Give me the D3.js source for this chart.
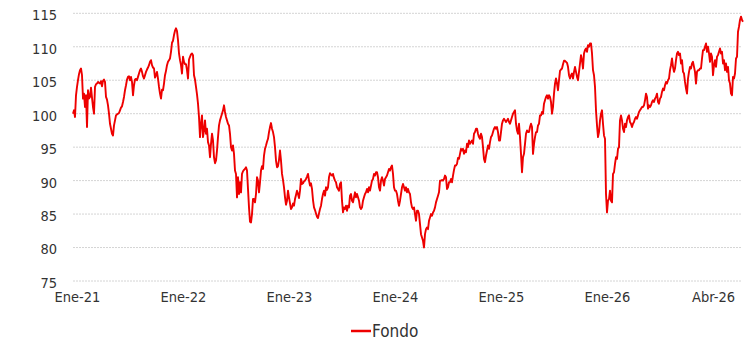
<!DOCTYPE html>
<html>
<head>
<meta charset="utf-8">
<script src="https://cdn.jsdelivr.net/npm/d3@7"></script>
<style>
  html, body { margin: 0; padding: 0; background: #ffffff; }
  svg { display: block; font-family: "DejaVu Sans Condensed", "DejaVu Sans", sans-serif; }
</style>
</head>
<body>
<svg id="chart" width="749" height="343"></svg>
<script>
// Fund value index (base 100), one value per observation
const fondo = [
  100.0,100.5,99.5,102.75,104,105,105.9,106.5,106.75,105.75,102.25,103,101,102.75,98,103.5,102.25,102.5,103.9,102.4,
  101,100,104,104.4,104.5,104.75,104.6,104.5,104.85,104.1,104.9,105.1,104.75,102.5,102.1,101.25,100,98.5,97.75,97,
  96.75,98.25,99,99.75,99.9,100,100.1,100.5,100.9,101.1,101.75,102.5,103.5,104.25,105.1,105.5,105.6,
  105,105.5,104.75,102.75,104.25,105.1,105.2,105,105.5,106,106.5,106.75,106.25,105.6,105.25,105.75,106.25,106.6,106.9,107.25,
  107.75,108,107.25,106.9,106.75,105.4,105.75,106.25,105.25,104,103,102.25,103.6,103.5,104.5,105.75,106.4,107.25,107.75,108,
  108.25,109.25,110.6,110.9,111.75,112.4,112.75,112.35,111,109,108,107.25,106,108.5,107.75,107.4,107.4,106.5,105.25,108.1,
  108.5,108.85,109,108.75,105.75,105.1,104,102.9,101.5,99.5,96.5,98.5,99.75,96.5,97.5,99,97,97.75,95.75,95.25,
  93.5,95.5,97,96,93.5,92.6,93,94.5,96.5,98.25,99,99.5,100,100.5,101.25,100.25,99.5,99,98.5,98.25,
  97,95,94.5,95.25,94,91.5,91,87.5,90.5,88,89.75,88.25,91,91.4,91.6,91.75,92,91.5,88.75,86,
  83.85,83.75,85,87.25,87.25,86.75,88,90.5,90,88.25,89.75,91.5,92.15,91.75,93.75,94.75,95.25,95.8,96.25,97.25,
  98,98.6,97.75,97.25,96.5,95,93,92,92.15,93.1,94.5,93,91,90.1,89,87.5,86.4,87,88.5,87.5,
  86.6,85.75,86,86.6,86.25,87.25,87.85,88.5,88,87.4,88.5,90.25,89.5,89.6,89.9,90,90.25,90.6,91,90,
  89.25,89.6,88.75,87.1,86,85.6,85.1,84.6,84.4,85.1,85.75,86.25,87.25,88,88.5,87.75,89,88.6,89,90.5,
  91.1,90.9,90.75,91,90.4,90,89.75,89,88.75,88.5,
  89.5,89.75,87,85.25,86,85.75,86.25,85.5,86.25,86,87.75,88,87,86.75,87.5,88.25,87.5,88,87.5,87,
  86,85.75,86,87,87.5,88,88.25,88.75,88.25,89,88.5,89.25,90,90.25,91,90.75,91.25,91.25,90.5,89,
  88.5,90,90.5,90,89.25,90.25,90.5,90.75,91.25,91.75,91.5,92,92.25,91,89,88.5,88.5,88,87,86.25,
  87,88,89,89.5,89,88.5,89,88.25,88.75,88.25,88,86.75,86,85.75,86,85,84,85.5,85.5,85,
  83.5,82,81.5,81,80,82,82.75,83,82.75,84,84.5,85,84.75,85.25,85.5,86,86.75,87.25,87.75,88.25,
  90,90,90.1,90,90.25,90.75,90.5,88.75,89,89.75,
  89.75,90.25,89.75,90.75,91.6,92.25,92.25,92.5,93.4,93.25,94,94.75,94.5,94.75,94,94.5,94.25,95.5,95,96,
  95.5,95.75,96,95.5,97,97.25,97.75,97.75,97,96.5,96.25,97,96.5,95,93.25,92.75,93.75,94.5,95.25,94.75,
  95.75,96.5,96.75,97.25,97.75,98,97.75,98,97.25,96,96,97.25,98.5,99,99.25,99,98.75,99,99.25,98.75,
  98.5,99,99.5,100,100.25,100.5,98.5,97.5,97,98.5,96.5,94,91.25,93.5,94,95.5,97,97.5,97.25,97.25,
  98,98.5,98,94,95.5,96.5,97.25,97.25,98.25,98.5,99.75,99.75,100.25,100,101.5,102,102.5,102.75,102.25,102.75,
  102.5,101.75,100,101,103,104.5,105.25,104.5,103.5,105,
  106.4,106.6,106.75,107.4,107.9,107.9,107.75,107.6,107,105.75,105.25,105.75,106,105.25,106.25,107,106.25,105.5,105,106.25,
  107.5,108.75,108,106.75,109,109.5,109.75,109.25,110.25,110,110.5,110.5,109,106.5,105.75,104,100.5,98.25,96.5,97.25,
  99,100,100.5,98.5,96.75,96.25,88,85.25,87,87.25,88.5,87,86.75,91,91.25,92.5,93.5,93.25,94.75,95,
  99,99.75,99,97.75,97.25,98.5,98,99,99.5,99.75,98.75,98.5,98,98.5,98.75,99.25,99.5,99.25,99.75,100.25,
  100.5,100.75,101,101,101.25,102,103,102.5,100.75,101.25,
  101,101.25,101.75,102,101.75,102.25,102.5,103,101.75,101.5,102.25,102.5,103.25,103.75,103.5,104.25,104.75,104.5,105,105.25,
  106.5,107.25,108.25,107,106.25,106.75,108,109,109.25,108.75,109,107.5,108,106.25,106,104.75,103.75,103,105.25,106.25,
  107,106.75,107.5,107.75,107,106.25,104.5,106.25,106.5,106.5,106.75,106.75,108.25,109.5,109.5,110,110.5,109.25,110,109,
  107.75,109,108.5,105.75,107.25,108,107,108.5,108.75,109.25,109.75,109,109.25,107.5,108,106.5,107.5,106.25,107,105,
  104.5,103,102.75,105.5,105.25,106,108.25,108.5,112.25,113,114,114.5,114,113.75
];

// Y axis ticks (index level)
const yTicks = [75, 80, 85, 90, 95, 100, 105, 110, 115];

// X axis labels and the observation each one sits under
const xTickLabels = ["Ene-21", "Ene-22", "Ene-23", "Ene-24", "Ene-25", "Ene-26", "Abr-26"];
const xTickIndex = [4, 110, 216, 322, 428, 534, 640];

const seriesName = "Fondo";
const seriesColor = "#ee0000";

const svg = d3.select("#chart");
const plot = { left: 73, right: 743, top: 13.3, bottom: 281 };

const x = d3.scaleLinear()
  .domain([0, fondo.length - 1])
  .range([plot.left, plot.right]);

const y = d3.scaleLinear()
  .domain([75, 115])
  .range([plot.bottom, plot.top]);

// Horizontal dotted gridlines
svg.append("g")
  .selectAll("line")
  .data(yTicks)
  .join("line")
  .attr("x1", plot.left)
  .attr("x2", 742)
  .attr("y1", d => y(d))
  .attr("y2", d => y(d))
  .attr("stroke", "#d4d4d4")
  .attr("stroke-width", 1)
  .attr("stroke-dasharray", "2,1");

// Y axis labels
const yAxis = d3.axisLeft(y).tickValues(yTicks).tickSize(0).tickPadding(0);
const gy = svg.append("g")
  .attr("transform", "translate(57,1.8)")
  .call(yAxis);
gy.select(".domain").remove();
gy.selectAll("text")
  .attr("fill", "#333")
  .style("font-size", "14.5px")
  .style("font-family", "'DejaVu Sans Condensed', 'DejaVu Sans', sans-serif");

// X axis labels
const xAxis = d3.axisBottom(x)
  .tickValues(xTickIndex)
  .tickFormat((d, i) => xTickLabels[i])
  .tickSize(0)
  .tickPadding(0);
const gx = svg.append("g")
  .attr("transform", "translate(0,291.5)")
  .call(xAxis);
gx.select(".domain").remove();
gx.selectAll("text")
  .attr("fill", "#333")
  .style("font-size", "14.5px")
  .style("font-family", "'DejaVu Sans Condensed', 'DejaVu Sans', sans-serif");

// Fund line
const line = d3.line()
  .x((d, i) => x(i))
  .y(d => y(d));

svg.append("path")
  .datum(fondo)
  .attr("d", line)
  .attr("fill", "none")
  .attr("stroke", seriesColor)
  .attr("stroke-width", 1.9)
  .attr("stroke-linejoin", "round");

// Legend
const legend = svg.append("g").attr("transform", "translate(351,331)");
legend.append("line")
  .attr("x1", 0).attr("x2", 20)
  .attr("y1", 0).attr("y2", 0)
  .attr("stroke", seriesColor)
  .attr("stroke-width", 2.5);
legend.append("text")
  .attr("x", 21)
  .attr("y", 0)
  .attr("dy", "0.35em")
  .attr("fill", "#333")
  .style("font-size", "17px")
  .text(seriesName);
</script>
</body>
</html>
